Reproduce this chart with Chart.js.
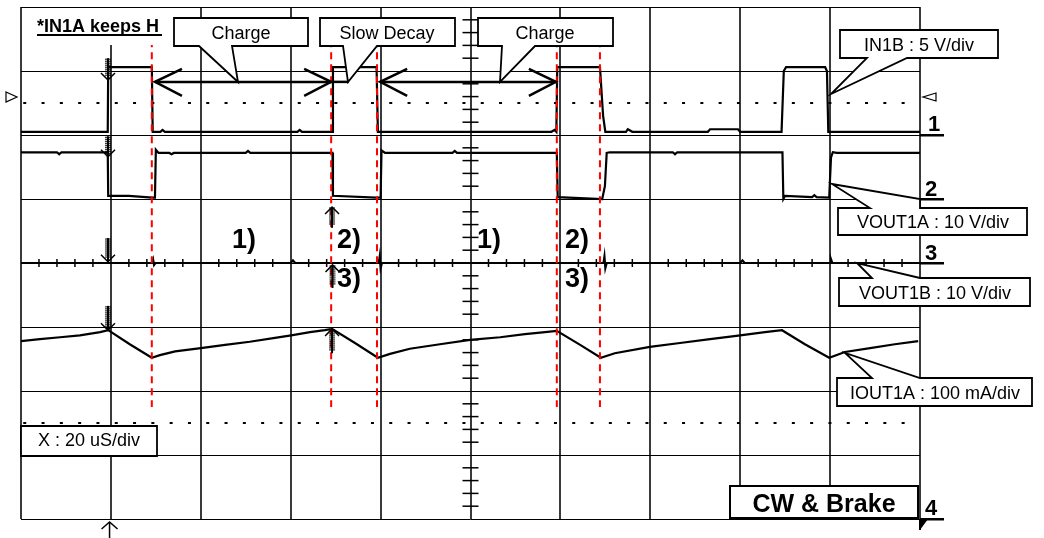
<!DOCTYPE html>
<html>
<head>
<meta charset="utf-8">
<title>CW &amp; Brake</title>
<script src="https://cdn.jsdelivr.net/npm/chart.js@4.4.1/dist/chart.umd.min.js"></script>
<style>
  html, body { margin: 0; padding: 0; background: #fff; overflow: hidden; }
  canvas { display: block; }
</style>
</head>
<body>
<canvas id="scope" width="1044" height="538"></canvas>
<script>
// time in us (20 us/div, 10 div), levels in screen divisions (centre = 0, +-4 div)
const in1bTime = [0, 19.3, 19.4, 29.1, 29.3, 31.0, 31.5, 32.0, 61.5, 62.0, 62.5, 69.2, 69.4, 79.1, 79.4, 118.0, 118.7, 119.1, 119.3, 128.8, 129.5, 130.0, 134.6, 135.0, 136.0, 152.8, 153.3, 159.5, 160.0, 169.2, 169.7, 170.2, 178.9, 179.3, 179.6, 200];
const in1bDiv  = [2.05, 2.05, 3.06, 3.06, 2.05, 2.05, 2.08, 2.05, 2.05, 2.08, 2.05, 2.05, 3.06, 3.06, 2.05, 2.05, 2.08, 2.05, 3.06, 3.06, 2.3, 2.05, 2.05, 2.09, 2.05, 2.05, 2.09, 2.09, 2.05, 2.05, 3.0, 3.06, 3.06, 3.0, 2.05, 2.05];

const vout1aTime = [0, 8.0, 8.5, 9.0, 19.3, 19.4, 24.0, 29.2, 29.8, 30.0, 30.6, 33.0, 33.5, 34.0, 50.0, 50.5, 51.0, 69.3, 69.4, 79.0, 80.0, 80.2, 81.0, 96.0, 96.5, 97.0, 119.2, 119.4, 129.3, 129.9, 130.3, 131.0, 145.0, 145.5, 146.0, 169.4, 169.6, 170.0, 176.0, 176.5, 177.0, 179.8, 180.2, 180.6, 181.5, 200];
const vout1aDiv  = [1.73, 1.73, 1.70, 1.73, 1.73, 1.05, 1.05, 1.02, 1.02, 1.77, 1.72, 1.72, 1.70, 1.72, 1.72, 1.75, 1.72, 1.72, 1.05, 1.02, 1.02, 1.76, 1.72, 1.72, 1.75, 1.72, 1.72, 1.03, 1.00, 1.20, 1.72, 1.73, 1.73, 1.70, 1.73, 1.73, 1.00, 1.05, 1.03, 1.06, 1.03, 1.02, 1.65, 1.73, 1.72, 1.72];

const vout1bTime = [0, 29.2, 29.4, 29.6, 29.9, 60.0, 60.5, 61.0, 79.6, 79.8, 80.0, 80.3, 129.6, 129.8, 130.0, 130.3, 160.0, 160.5, 161.0, 180.0, 180.2, 180.5, 200];
const vout1bDiv  = [0, 0, 0.05, -0.03, 0, 0, 0.04, 0, 0, 0.1, -0.08, 0, 0, 0.1, -0.08, 0, 0, 0.04, 0, 0, 0.06, 0, 0];

const iout1aTime = [0, 4.2, 8.7, 13.1, 17.6, 19.4, 24.2, 29.1, 30.9, 34.3, 40.0, 45.4, 50.9, 56.5, 60.1, 64.3, 67.6, 69.2, 74.3, 79.4, 82.1, 86.5, 93.2, 99.9, 106.6, 112.1, 116.6, 119.2, 124.4, 129.0, 132.1, 139.9, 146.6, 153.3, 160.0, 165.5, 169.3, 174.4, 179.8, 183.3, 188.9, 194.4, 199.6];
const iout1aDiv  = [-1.22, -1.19, -1.16, -1.13, -1.08, -1.05, -1.27, -1.48, -1.44, -1.38, -1.33, -1.28, -1.23, -1.17, -1.13, -1.08, -1.05, -1.03, -1.25, -1.48, -1.42, -1.34, -1.27, -1.20, -1.16, -1.11, -1.08, -1.06, -1.28, -1.48, -1.41, -1.31, -1.25, -1.19, -1.13, -1.08, -1.05, -1.27, -1.48, -1.39, -1.33, -1.27, -1.22];

// red dashed time markers and dotted level cursors
const redMarkTime = [29.1, 69.0, 79.2, 119.2, 128.8];
const redMarkSpan = [3.48, -2.25];
const cursorLevel = [2.5, -2.5];
const cursorSpan = [0.5, 198];

const FONT = '"Liberation Sans", Arial, Helvetica, sans-serif';

function toPoints(ts, vs) { return ts.map((t, i) => ({ x: t, y: vs[i] })); }

function redPoints() {
    const pts = [];
    redMarkTime.forEach(t => {
        pts.push({ x: t, y: redMarkSpan[0] }, { x: t, y: redMarkSpan[1] }, { x: t, y: null });
    });
    return pts;
}

function trace(label, data) {
    return { label, data, borderColor: '#000', borderWidth: 2.2, pointRadius: 0, tension: 0 };
}

function line(ctx, pts, w) {
    ctx.lineWidth = w;
    ctx.beginPath();
    ctx.moveTo(pts[0][0], pts[0][1]);
    for (let i = 1; i < pts.length; i++) ctx.lineTo(pts[i][0], pts[i][1]);
    ctx.stroke();
}

function callout(ctx, poly, text, cx, base) {
    ctx.fillStyle = '#fff';
    ctx.strokeStyle = '#000';
    ctx.lineWidth = 1.8;
    ctx.beginPath();
    ctx.moveTo(poly[0][0], poly[0][1]);
    for (let i = 1; i < poly.length; i++) ctx.lineTo(poly[i][0], poly[i][1]);
    ctx.closePath();
    ctx.fill();
    ctx.stroke();
    ctx.fillStyle = '#000';
    ctx.font = '18px ' + FONT;
    ctx.textAlign = 'center';
    ctx.textBaseline = 'alphabetic';
    ctx.fillText(text, cx, base);
}

// hatched probe-style marker with a V head
function marker(ctx, x, yTail, yTip) {
    const dir = yTip > yTail ? 1 : -1;
    ctx.strokeStyle = '#000';
    line(ctx, [[x, yTail], [x, yTip]], 2);
    ctx.lineWidth = 1;
    for (let y = Math.min(yTail, yTip) + 1; y < Math.max(yTail, yTip) - 3; y += 2) {
        ctx.beginPath(); ctx.moveTo(x - 3, y); ctx.lineTo(x + 3, y); ctx.stroke();
    }
    line(ctx, [[x - 7, yTip - 7 * dir], [x, yTip], [x + 7, yTip - 7 * dir]], 1.5);
}

function doubleArrow(ctx, x1, x2, y) {
    ctx.strokeStyle = '#000';
    line(ctx, [[x1, y], [x2, y]], 2.5);
    line(ctx, [[x1 + 27, y - 13], [x1, y], [x1 + 27, y + 14]], 2.5);
    line(ctx, [[x2 - 27, y - 13], [x2, y], [x2 - 27, y + 14]], 2.5);
}

const overlay = {
    id: 'overlay',
    beforeDatasetsDraw(chart) {
        const ctx = chart.ctx, xs = chart.scales.x, ys = chart.scales.y;
        ctx.save();
        ctx.strokeStyle = '#000';
        ctx.lineWidth = 1.5;
        const yc = ys.getPixelForValue(0);
        for (let t = 4; t < 200; t += 4) {
            if (t % 20 === 0) continue;
            const x = xs.getPixelForValue(t);
            ctx.beginPath(); ctx.moveTo(x, yc - 4); ctx.lineTo(x, yc + 4); ctx.stroke();
        }
        const xc = xs.getPixelForValue(100);
        for (let i = -19; i < 20; i++) {
            if (i % 5 === 0) continue;
            const y = ys.getPixelForValue(i / 5);
            ctx.beginPath(); ctx.moveTo(xc - 8, y); ctx.lineTo(xc + 8, y); ctx.stroke();
        }
        ctx.restore();
    },
    afterDatasetsDraw(chart) {
        const ctx = chart.ctx, xs = chart.scales.x, ys = chart.scales.y;
        const X = t => xs.getPixelForValue(t), Y = d => ys.getPixelForValue(d);
        ctx.save();
        // trigger markers at first pulse
        marker(ctx, X(19.35), Y(3.2), Y(2.86));
        marker(ctx, X(19.35), Y(1.98), Y(1.66));
        marker(ctx, X(19.35), Y(0.39), Y(0.02));
        marker(ctx, X(19.35), Y(-0.67), Y(-1.05));
        // markers at start of slow decay
        marker(ctx, X(69.2), Y(0.55), Y(0.875));
        marker(ctx, X(69.3), Y(-0.39), Y(-0.03));
        marker(ctx, X(69.2), Y(-1.41), Y(-1.03));
        // trigger position at bottom
        const bx = X(19.7), by = chart.chartArea.bottom + 3;
        line(ctx, [[bx, by], [bx, by + 16]], 1.5);
        line(ctx, [[bx - 8, by + 7], [bx, by], [bx + 8, by + 7]], 1.5);
        // phase arrows
        const ay = Y(2.83);
        doubleArrow(ctx, X(29.8), X(69.0), ay);
        line(ctx, [[X(69.4), ay], [X(72.9), ay]], 2.5);
        doubleArrow(ctx, X(79.9), X(119.0), ay);
        ctx.restore();
    },
    afterDraw(chart) {
        const ctx = chart.ctx, area = chart.chartArea;
        ctx.save();
        // title
        ctx.fillStyle = '#fff';
        ctx.fillRect(23, 8, 149, 37);
        ctx.fillStyle = '#000';
        ctx.font = 'bold 18px ' + FONT;
        ctx.textAlign = 'left';
        ctx.textBaseline = 'alphabetic';
        ctx.fillText('*IN1A keeps H', 37, 32);
        ctx.fillRect(37, 34, 125, 2);

        callout(ctx, [[174, 18], [308, 18], [308, 46], [232, 46], [238, 82], [199, 46], [174, 46]], 'Charge', 241, 39);
        callout(ctx, [[320, 18], [455, 18], [455, 46], [377, 46], [348, 82], [343, 46], [320, 46]], 'Slow Decay', 387, 39);
        callout(ctx, [[478, 18], [613, 18], [613, 46], [535, 46], [500, 82], [502, 46], [478, 46]], 'Charge', 545, 39);
        callout(ctx, [[840, 30], [998, 30], [998, 58], [907, 58], [831, 94], [867, 58], [840, 58]], 'IN1B : 5 V/div', 919, 51);
        callout(ctx, [[838, 208], [870, 208], [832, 184], [920, 199], [920, 208], [1027, 208], [1027, 235], [838, 235]], 'VOUT1A : 10 V/div', 933, 228);
        callout(ctx, [[839, 278], [872, 278], [857, 263], [920, 278], [1030, 278], [1030, 306], [839, 306]], 'VOUT1B : 10 V/div', 935, 299);
        callout(ctx, [[837, 378], [872, 378], [845, 353], [920, 378], [1032, 378], [1032, 406], [837, 406]], 'IOUT1A : 100 mA/div', 935, 399);
        callout(ctx, [[21, 426], [157, 426], [157, 456], [21, 456]], 'X : 20 uS/div', 89, 446);

        // CW & Brake
        ctx.fillStyle = '#fff';
        ctx.strokeStyle = '#000';
        ctx.lineWidth = 2;
        ctx.fillRect(730, 486, 188, 32);
        ctx.strokeRect(730, 486, 188, 32);
        ctx.fillStyle = '#000';
        ctx.font = 'bold 25px ' + FONT;
        ctx.textAlign = 'center';
        ctx.fillText('CW & Brake', 824, 512);

        // phase labels
        ctx.font = 'bold 27px ' + FONT;
        ctx.textAlign = 'left';
        [['1)', 232, 248], ['2)', 337, 248], ['3)', 337, 287], ['1)', 477, 248], ['2)', 565, 248], ['3)', 565, 287]]
            .forEach(([s, x, y]) => ctx.fillText(s, x, y));

        // channel ground markers
        ctx.font = 'bold 22px ' + FONT;
        [['1', 928, 131, 135], ['2', 925, 196, 199], ['3', 925, 260, 263], ['4', 925, 515, 519]]
            .forEach(([s, x, y, u]) => {
                ctx.fillText(s, x, y);
                ctx.fillRect(920, u - 1, 24, 2.5);
            });
        ctx.beginPath();
        ctx.moveTo(920, 519); ctx.lineTo(928, 519); ctx.lineTo(920, 530); ctx.closePath();
        ctx.fill();
        ctx.fillRect(area.right - 1, area.bottom, 2, 11);

        // level indicators
        ctx.lineWidth = 1.2;
        ctx.beginPath();
        ctx.moveTo(6, 92); ctx.lineTo(17, 97); ctx.lineTo(6, 102); ctx.closePath();
        ctx.stroke();
        ctx.beginPath();
        ctx.moveTo(936, 93); ctx.lineTo(923, 97); ctx.lineTo(936, 101); ctx.closePath();
        ctx.stroke();
        ctx.restore();
    }
};

new Chart(document.getElementById('scope'), {
    type: 'line',
    data: {
        datasets: [
            { label: 'markers', data: redPoints(), borderColor: '#ff0000', borderWidth: 2, borderDash: [7, 5], pointRadius: 0, spanGaps: false },
            trace('IN1B', toPoints(in1bTime, in1bDiv)),
            trace('VOUT1A', toPoints(vout1aTime, vout1aDiv)),
            trace('VOUT1B', toPoints(vout1bTime, vout1bDiv)),
            trace('IOUT1A', toPoints(iout1aTime, iout1aDiv)),
            ...cursorLevel.map(l => ({
                label: 'cursor', data: [{ x: cursorSpan[0], y: l }, { x: cursorSpan[1], y: l }],
                borderColor: '#000', borderWidth: 2, borderDash: [3, 15.3], pointRadius: 0
            }))
        ]
    },
    options: {
        responsive: false,
        devicePixelRatio: 1,
        animation: false,
        layout: { padding: { left: 21, right: 124, top: 7, bottom: 19 } },
        plugins: { legend: { display: false }, tooltip: { enabled: false } },
        scales: {
            x: {
                type: 'linear', min: 0, max: 200,
                ticks: { stepSize: 20, display: false },
                grid: { color: '#3a3a3a', lineWidth: 2, drawTicks: false },
                border: { display: false }
            },
            y: {
                type: 'linear', min: -4, max: 4,
                ticks: { stepSize: 1, display: false },
                grid: { color: '#000', lineWidth: 1, drawTicks: false },
                border: { display: false }
            }
        }
    },
    plugins: [overlay]
});
</script>
</body>
</html>
